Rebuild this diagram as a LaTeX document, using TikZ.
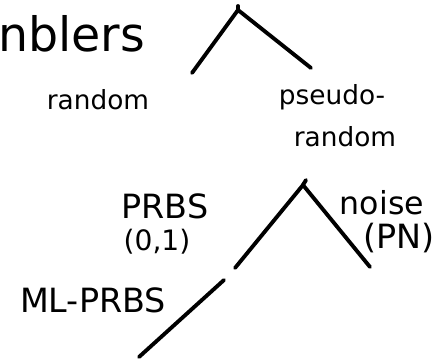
\documentclass[tikz,border=0pt]{standalone}
\usepackage{fontspec}
\setmainfont{DejaVu Sans}

\begin{document}
\begin{tikzpicture}[x=0.02cm,y=-0.02cm,
    stroke/.style={line width=2.2pt,line cap=round},
    hand/.style={inner sep=0pt,font=\fontsize{15}{17}\selectfont}]
      \useasboundingbox (0,0) rectangle (443,364);

      % heading, cut at the left edge
      \node[anchor=base west,inner sep=0pt,font=\fontsize{27}{30}\selectfont] (title) at (-2,52) {nblers};

      % first split
      \coordinate (apexA) at (238,10);
      \coordinate (leftA) at (192,73);
      \coordinate (rightA) at (311,68);
      \draw[stroke] (leftA) -- (apexA) -- (rightA);
      \draw[stroke] (apexA) -- ++(0,-4);

      \node[hand] (rnd) at (98,100) {random};
      \node[hand] (pseudo) at (332,97) {pseudo-};
      \node[hand] (rnd2) at (345,137) {random};

      % second split
      \coordinate (apexB) at (303,185);
      \coordinate (leftB) at (235,268);
      \coordinate (rightB) at (370,267);
      \draw[stroke] (leftB) -- (apexB) -- (rightB);
      \draw[stroke] (apexB) -- ++(3,-5);

      \node[hand,font=\fontsize{19}{21}\selectfont] (prbs) at (165,206) {PRBS};
      \node[hand,font=\fontsize{16}{18}\selectfont] (bits) at (157,242) {(0,1)};
      \node[hand,font=\fontsize{18}{20}\selectfont] (noise) at (382,203) {noise};
      \node[hand,font=\fontsize{19}{21}\selectfont] (pn) at (399,238) {(PN)};

      % third branch
      \coordinate (topC) at (224,280);
      \coordinate (botC) at (139,357);
      \draw[stroke] (topC) -- (botC);

      \node[hand,font=\fontsize{19}{21}\selectfont] (mlprbs) at (93,300) {ML-PRBS};
    \end{tikzpicture}
\end{document}
